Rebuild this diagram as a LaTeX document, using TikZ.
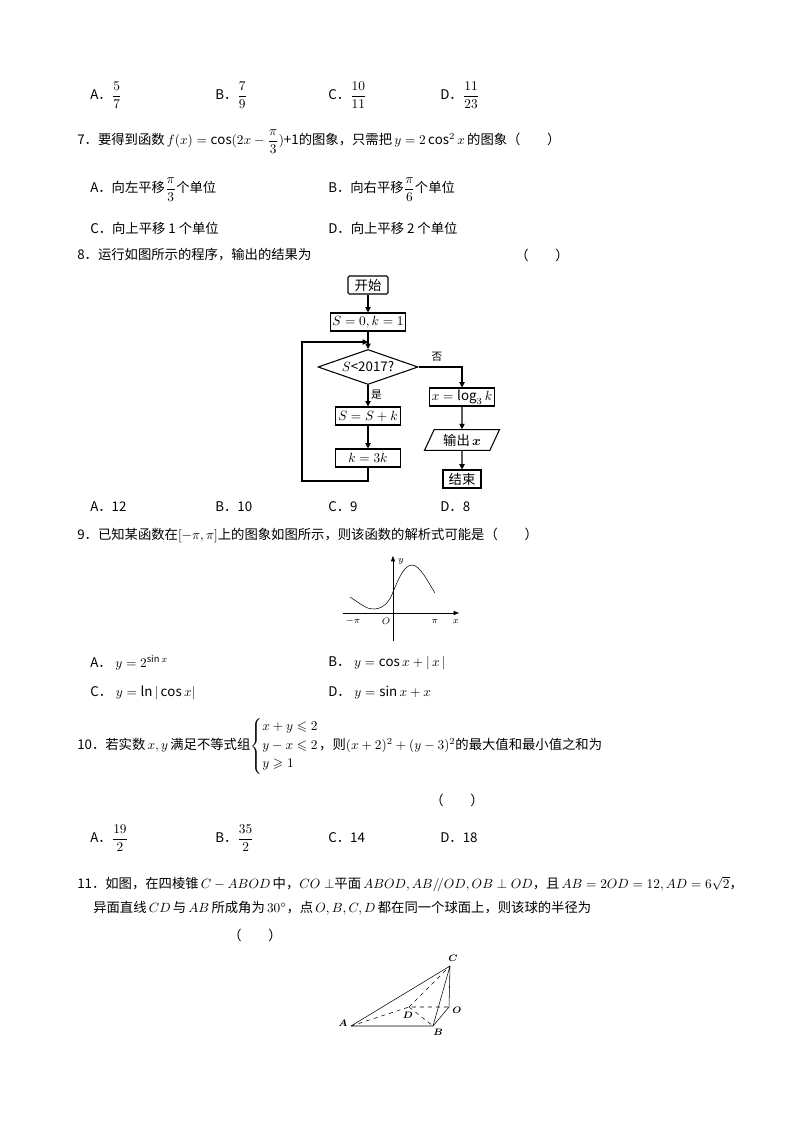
\documentclass[tikz,border=0pt]{standalone}
\usepackage{amsmath,amssymb}
\usepackage{fontspec}
\setmainfont{Noto Sans CJK SC}
\usetikzlibrary{shapes.geometric,arrows.meta}
\tikzset{
 t/.style={anchor=west,inner sep=0pt,font=\fontsize{10}{12}\selectfont},
 fbox/.style={draw,thick,minimum height=18pt*0.75,inner sep=1pt,font=\fontsize{10}{12}\selectfont},
 flow/.style={thick,-{Triangle[length=4pt,width=4pt]}},
 lab/.style={inner sep=0pt,font=\fontsize{8}{10}\selectfont},
}
\begin{document}
\begin{tikzpicture}[x=0.75pt,y=-0.75pt]
\useasboundingbox[fill=white] (0,0) rectangle (794,1123);
% line 1
\node[t] (a6) at (90,95) {A．\(\dfrac{5}{7}\)};
\node[t] (b6) at (215,95) {B．\(\dfrac{7}{9}\)};
\node[t] (c6) at (328,95) {C．\(\dfrac{10}{11}\)};
\node[t] (d6) at (440,95) {D．\(\dfrac{11}{23}\)};
% Q7
\node[t] (q7) at (77,142) {7．要得到函数\(\,f(x)=\cos(2x-\dfrac{\pi}{3})\)+1的图象，只需把\(\,y=2\cos^2x\,\)的图象（\qquad）};
\node[t] (a7) at (90,190) {A．向左平移\(\dfrac{\pi}{3}\)个单位};
\node[t] (b7) at (328,190) {B．向右平移\(\dfrac{\pi}{6}\)个单位};
\node[t] (c7) at (90,228) {C．向上平移 1 个单位};
\node[t] (d7) at (328,228) {D．向上平移 2 个单位};
% Q8
\node[t] (q8) at (77,255) {8．运行如图所示的程序，输出的结果为};
\node[t] (q8p) at (515,255) {（\qquad）};
% flowchart
\node[fbox,minimum width=40*0.75pt,rounded corners=1pt] (st) at (368,285) {开始};
\node[fbox,minimum width=75*0.75pt] (init) at (368,322) {\(S=0,k=1\)};
\node[draw,thick,diamond,aspect=2.9,inner sep=0.5pt,minimum width=100*0.75pt,minimum height=35*0.75pt,font=\fontsize{10}{12}\selectfont] (dec) at (368,367) {\(S\)<2017?};
\node[fbox,minimum width=65*0.75pt] (add) at (368,416) {\(S=S+k\)};
\node[fbox,minimum width=65*0.75pt] (mul) at (368,458) {\(k=3k\)};
\node[fbox,minimum width=65*0.75pt] (lg) at (462,397) {\(x=\log_3 k\)};
\node[draw,thick,trapezium,trapezium left angle=65,trapezium right angle=115,minimum width=75*0.75pt,minimum height=18*0.75pt,inner sep=1pt,font=\fontsize{10}{12}\selectfont] (out) at (462,440) {输出\,\(\boldsymbol{x}\)};
\node[fbox,minimum width=38*0.75pt] (end) at (462,479) {结束};
\coordinate (lp) at (368,342);
\draw[flow] (st) -- (init);
\draw[thick] (init) -- (lp);
\draw[flow] (lp) -- (dec);
\draw[flow] (dec) -- node[lab,right,pos=0.45,xshift=2pt]{是} (add);
\draw[flow] (add) -- (mul);
\draw[flow] (mul.south) -- (368,481) -- (302,481) -- (302,342) -- (lp);
\draw[flow] (dec.east) -- (462,367) -- (lg);
\node[lab] (no) at (437,357) {否};
\draw[flow] (lg) -- (out);
\draw[flow] (out) -- (end);
\node[t] (a8) at (90,507) {A．12};
\node[t] (b8) at (215,507) {B．10};
\node[t] (c8) at (328,507) {C．9};
\node[t] (d8) at (440,507) {D．8};
% Q9
\node[t] (q9) at (77,535) {9．已知某函数在\([-\pi,\pi]\)上的图象如图所示，则该函数的解析式可能是（\qquad）};
\coordinate (xa0) at (343,613); \coordinate (xa1) at (459,613);
\coordinate (ya0) at (393,641); \coordinate (ya1) at (393,556);
\draw[-{Triangle[length=4pt,width=3pt]}] (xa0) -- (xa1);
\draw[-{Triangle[length=4pt,width=3pt]}] (ya0) -- (ya1);
\draw (350,597) .. controls (362,605) and (368,610) .. (375,609) .. controls (385,608) and (390,600) .. (393,592) .. controls (398,580) and (404,565) .. (412,565) .. controls (420,565) and (428,582) .. (435,593);
\node[lab,font=\fontsize{7}{8}\selectfont] (lmp) at (353,621) {\(-\pi\)};
\node[lab,font=\fontsize{7}{8}\selectfont] (lo) at (386,621) {\(O\)};
\node[lab,font=\fontsize{7}{8}\selectfont] (lpi) at (435,621) {\(\pi\)};
\node[lab,font=\fontsize{7}{8}\selectfont] (lx) at (456,621) {\(x\)};
\node[lab,font=\fontsize{7}{8}\selectfont] (ly) at (401,561) {\(y\)};
\node[t] (a9) at (90,663) {A．\(\;y=2^{\sin x}\)};
\node[t] (b9) at (328,663) {B．\(\;y=\cos x+|\,x\,|\)};
\node[t] (c9) at (90,693) {C．\(\;y=\ln|\cos x|\)};
\node[t] (d9) at (328,693) {D．\(\;y=\sin x+x\)};
% Q10
\node[t] (q10) at (77,746) {10．若实数\(\,x,y\,\)满足不等式组\(\left\{\begin{array}{@{}l@{}}x+y\leqslant 2\\[2pt] y-x\leqslant 2\\[2pt] y\geqslant 1\end{array}\right.\)，则\((x+2)^2+(y-3)^2\)的最大值和最小值之和为};
\node[t] (q10p) at (430,800) {（\qquad）};
\node[t] (a10) at (90,838) {A．\(\dfrac{19}{2}\)};
\node[t] (b10) at (215,838) {B．\(\dfrac{35}{2}\)};
\node[t] (c10) at (328,838) {C．14};
\node[t] (d10) at (440,838) {D．18};
% Q11
\node[t] (q11) at (77,884) {11．如图，在四棱锥\(\,C-ABOD\,\)中，\(CO\perp\)平面\(\,ABOD, AB/\!/OD, OB\perp OD\)，且\(\,AB=2OD=12, AD=6\sqrt{2}\)，};
\node[t] (q11b) at (93,908) {异面直线\(\,CD\,\)与\(\,AB\,\)所成角为\(\,30^\circ\)，点\(\,O,B,C,D\,\)都在同一个球面上，则该球的半径为};
\node[t] (q11p) at (228,935) {（\qquad）};
% pyramid
\coordinate (A) at (351,1026); \coordinate (B) at (433,1026);
\coordinate (O) at (449,1007); \coordinate (D) at (409,1007);
\coordinate (C) at (450,966);
\draw (A) -- (B) -- (O) -- (C) -- (A) (C) -- (B);
\draw[dashed] (A) -- (D) -- (O) (D) -- (B) (D) -- (C);
\node[lab,font=\fontsize{7.5}{8}\selectfont] (lC) at (453,958) {\(\boldsymbol{C}\)};
\node[lab,font=\fontsize{7.5}{8}\selectfont] (lA) at (343,1023) {\(\boldsymbol{A}\)};
\node[lab,font=\fontsize{7.5}{8}\selectfont] (lB) at (438,1032) {\(\boldsymbol{B}\)};
\node[lab,font=\fontsize{7.5}{8}\selectfont] (lD) at (408,1015) {\(\boldsymbol{D}\)};
\node[lab,font=\fontsize{7.5}{8}\selectfont] (lO) at (457,1010) {\(\boldsymbol{O}\)};
\end{tikzpicture}
\end{document}
